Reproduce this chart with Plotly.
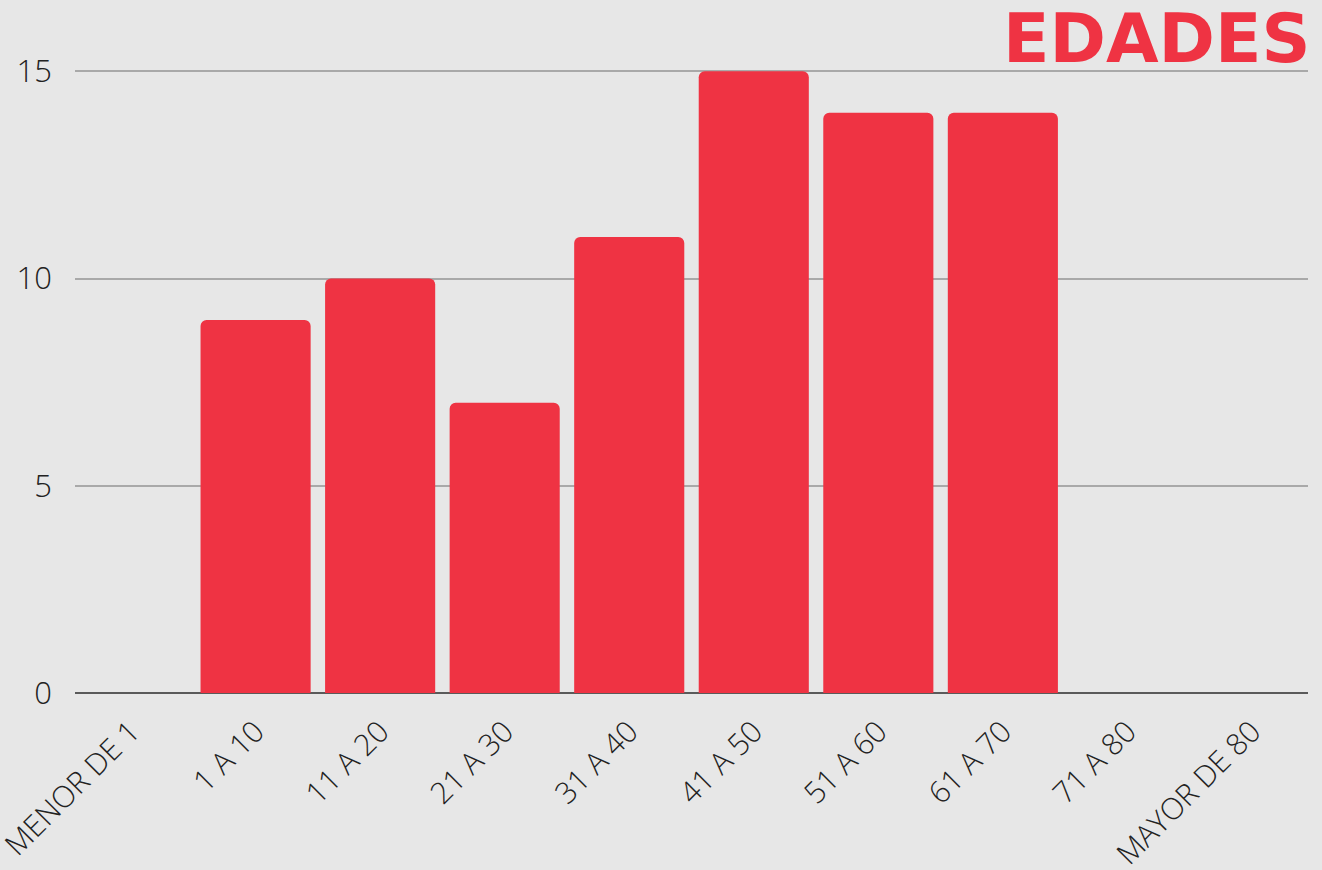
import plotly.graph_objects as go

categories = ["MENOR DE 1", "1 A 10", "11 A 20", "21 A 30", "31 A 40",
              "41 A 50", "51 A 60", "61 A 70", "71 A 80", "MAYOR DE 80"]
values = [0, 9, 10, 7, 11, 15, 14, 14, 0, 0]
y_ticks = [0, 5, 10, 15]
title_text = "EDADES"

W, H = 1322, 870
L, R, T, B = 75, 14, 70, 177

fig = go.Figure()
fig.add_trace(go.Bar(
    x=list(range(len(categories))), y=values,
    marker=dict(color="#EF3343", line=dict(width=0), cornerradius=6),
    cliponaxis=False, hoverinfo="skip",
))

fig.update_layout(
    width=W, height=H,
    margin=dict(l=L, r=R, t=T, b=B, pad=0, autoexpand=False),
    paper_bgcolor="#e7e7e7", plot_bgcolor="rgba(0,0,0,0)",
    bargap=0.116, showlegend=False,
    font=dict(family="Open Sans", color="#222222"),
    xaxis=dict(
        range=[-0.45, 9.45], tickmode="array",
        tickvals=list(range(len(categories))), ticktext=categories,
        tickangle=-45, tickfont=dict(size=30, family="Open Sans", weight=300),
        showgrid=False, zeroline=False, showline=False, ticks="",
        ticklabeloverflow="allow", automargin=False, ticklabelstandoff=14,
    ),
    yaxis=dict(
        range=[0, 15.03], tickmode="array", tickvals=y_ticks,
        tickfont=dict(size=31, family="Open Sans", weight=300),
        showgrid=True, gridcolor="#a9a9a9", gridwidth=2,
        zeroline=True, zerolinecolor="#5a5a5a", zerolinewidth=2,
        showline=False, ticks="", ticklabelstandoff=22, automargin=False,
    ),
    annotations=[dict(
        text=title_text, xref="paper", yref="paper",
        x=(1312 - L) / (W - L - R), y=1 + (T - 80) / (H - T - B),
        xanchor="right", yanchor="bottom", showarrow=False,
        font=dict(family="DejaVu Sans", size=68, color="#EF3343", weight="bold"),
    )],
)

fig.write_html("out.html", config={"displayModeBar": False},
               post_script="document.body.style.margin='0px';")
